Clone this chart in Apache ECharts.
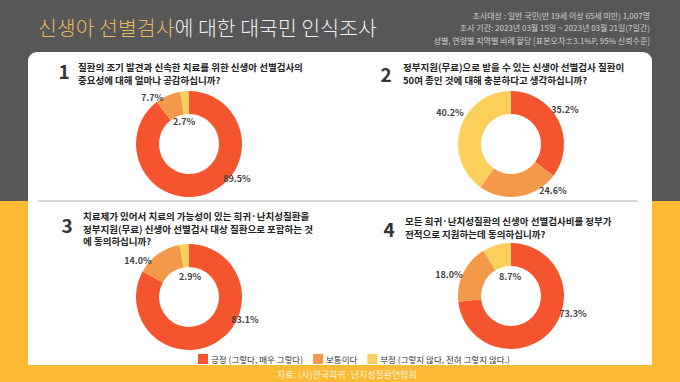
<!DOCTYPE html>
<html>
<head>
<meta charset="utf-8">
<script src="https://cdn.jsdelivr.net/npm/echarts@6/dist/echarts.min.js"></script>
<style>
  html, body { margin: 0; padding: 0; background: #575757; }
  #main { width: 680px; height: 382px; }
</style>
</head>
<body>
<div id="main"></div>
<script>
// survey answers and results (%)
var answers = ['긍정 (그렇다, 매우 그렇다)', '보통이다', '부정 (그렇지 않다, 전혀 그렇지 않다.)'];
var q1Values = [89.5, 7.7, 2.7];
var q2Values = [35.2, 24.6, 40.2];
var q3Values = [83.1, 14.0, 2.9];
var q4Values = [73.3, 18.0, 8.7];

var q1Lines = ['질환의 조기 발견과 신속한 치료를 위한 신생아 선별검사의', '중요성에 대해 얼마나 공감하십니까?'];
var q2Lines = ['정부지원(무료)으로 받을 수 있는 신생아 선별검사 질환이', '50여 종인 것에 대해 충분하다고 생각하십니까?'];
var q3Lines = ['치료제가 있어서 치료의 가능성이 있는 희귀·난치성질환을', '정부지원(무료) 신생아 선별검사 대상 질환으로 포함하는 것', '에 동의하십니까?'];
var q4Lines = ['모든 희귀·난치성질환의 신생아 선별검사비를 정부가', '전적으로 지원하는데 동의하십니까?'];

var noteLines = [
  '조사대상 : 일반 국민(만 19세 이상 65세 미만) 1,007명',
  '조사 기간: 2023년 03월 15일 ~ 2023년 03월 21일(7일간)',
  '성별, 연령별 지역별 비례 할당 [표본오차±3.1%P, 95% 신뢰수준]'
];

var colors = ['#f4552f', '#f4994a', '#fccf5a'];
var FONT = '"Noto Sans CJK KR", "Noto Sans", sans-serif';

var chart = echarts.init(document.getElementById('main'), null, { renderer: 'svg' });

// label offsets from donut centre, per slice
function makePie(values, center, offsets) {
  return {
    type: 'pie',
    center: center,
    radius: [30, 53],
    startAngle: 90,
    avoidLabelOverlap: false,
    data: values.map(function (v, i) { return { name: answers[i], value: v }; }),
    label: {
      show: true,
      position: 'outside',
      formatter: function (p) { return p.value.toFixed(1) + '%'; },
      fontFamily: FONT,
      fontSize: 9,
      fontWeight: 'bold',
      color: '#444'
    },
    labelLine: { show: false },
    labelLayout: function (p) {
      var o = offsets[p.dataIndex];
      return { x: center[0] + o[0], y: center[1] + o[1], align: 'center', verticalAlign: 'middle' };
    },
    emphasis: { disabled: true }
  };
}

function questionText(num, lines, nx, ny, tx, ty) {
  var els = [{
    type: 'text', x: nx, y: ny, z: 5,
    style: { text: num, fill: '#333', font: 'bold 19px ' + FONT, textAlign: 'center', textVerticalAlign: 'middle' }
  }];
  lines.forEach(function (t, i) {
    els.push({
      type: 'text', x: tx, y: ty + i * 12.5, z: 5,
      style: { text: t, fill: '#222', font: 'bold 9.5px ' + FONT, textAlign: 'left', textVerticalAlign: 'middle' }
    });
  });
  return els;
}

var graphics = [
  { type: 'rect', shape: { x: 0, y: 0, width: 680, height: 201 }, style: { fill: '#575757' }, z: 0 },
  { type: 'rect', shape: { x: 0, y: 201, width: 680, height: 181 }, style: { fill: '#fbb934' }, z: 0 },
  { type: 'rect', shape: { x: 28, y: 52, width: 624, height: 313, r: [9, 9, 0, 0] }, style: { fill: '#fff' }, z: 1 },
  { type: 'line', shape: { x1: 38, y1: 201, x2: 638, y2: 201 }, style: { stroke: '#b0b0b0', lineWidth: 1 }, z: 2 },
  {
    type: 'text', x: 347, y: 374, z: 5,
    style: { text: '자료: (사)한국희귀·난치성질환연합회', fill: '#fff6dc', font: '9px ' + FONT, textAlign: 'center', textVerticalAlign: 'middle' }
  }
];
noteLines.forEach(function (t, i) {
  graphics.push({
    type: 'text', x: 650, y: 15 + i * 12.5, z: 5,
    style: { text: t, fill: '#cfcfcf', font: '8px ' + FONT, textAlign: 'right', textVerticalAlign: 'middle' }
  });
});
graphics = graphics
  .concat(questionText('1', q1Lines, 64, 70, 78, 67))
  .concat(questionText('2', q2Lines, 386, 73, 403, 67))
  .concat(questionText('3', q3Lines, 67, 224, 83, 216))
  .concat(questionText('4', q4Lines, 389, 228, 405, 221));

var option = {
  backgroundColor: '#575757',
  color: colors,
  animation: false,
  title: {
    left: 33,
    top: 12,
    text: '{a|신생아 선별검사}{b|에 대한 대국민 인식조사}',
    textStyle: {
      rich: {
        a: { color: '#e9b95c', fontSize: 20.5, fontWeight: 300, fontFamily: FONT },
        b: { color: '#f0f0f0', fontSize: 20.5, fontWeight: 300, fontFamily: FONT }
      }
    }
  },
  legend: {
    data: answers,
    left: 193,
    top: 349,
    icon: 'rect',
    itemWidth: 10,
    itemHeight: 10,
    itemGap: 10,
    selectedMode: false,
    textStyle: { fontFamily: FONT, fontSize: 8.5, color: '#333', padding: [0, 0, 0, -2] }
  },
  graphic: { elements: graphics },
  series: [
    makePie(q1Values, [189, 144], [[48, 34], [-37, -47], [-5, -23]]),
    makePie(q2Values, [511, 144], [[54, -35], [42, 46], [-61, -32]]),
    makePie(q3Values, [189, 297], [[56, 22], [-51, -37], [1, -21]]),
    makePie(q4Values, [511, 296], [[62, 17], [-62, -22], [-1, -20]])
  ]
};

chart.setOption(option);
</script>
</body>
</html>
